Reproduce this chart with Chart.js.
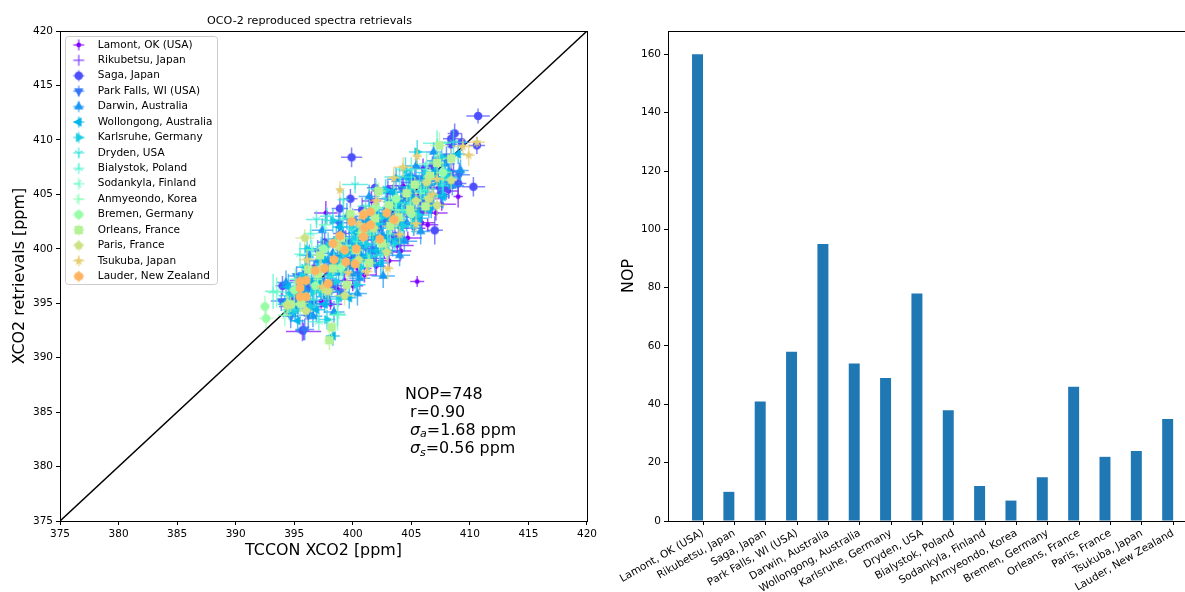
<!DOCTYPE html>
<html>
<head>
<meta charset="utf-8">
<script src="https://cdn.jsdelivr.net/npm/chart.js@4"></script>
<style>
html,body{margin:0;padding:0;background:#fff;overflow:hidden;width:1185px;height:592px;}
canvas{position:absolute;top:0;}
#chartScatter{left:0;}
#chartNop{left:600px;}
</style>
</head>
<body>
<canvas id="chartScatter" width="600" height="592"></canvas>
<canvas id="chartNop" width="590" height="592"></canvas>
<script>
const sites = ["Lamont, OK (USA)","Rikubetsu, Japan","Saga, Japan","Park Falls, WI (USA)","Darwin, Australia","Wollongong, Australia","Karlsruhe, Germany","Dryden, USA","Bialystok, Poland","Sodankyla, Finland","Anmyeondo, Korea","Bremen, Germany","Orleans, France","Paris, France","Tsukuba, Japan","Lauder, New Zealand"];
const nopCounts = [160,10,41,58,95,54,49,78,38,12,7,15,46,22,24,35];
const siteColors = ["#8000ff","#6628fe","#4d4ffc","#3374f8","#1a96f3","#00b4ec","#1acee3","#33e3d9","#4df3ce","#66fcc2","#80ffb4","#99fca6","#b3f396","#cce385","#e6ce74","#ffb462"];
const siteMarkers = ["dot","pixel","circle","down","up","left","right","tri1","tri2","tri3","tri4","octagon","square","pentagon","star","hexagon"];
const axisTicks = [375,380,385,390,395,400,405,410,415,420];
const nopTicks = [0,20,40,60,80,100,120,140,160];
const oneToOne = [375,420];

// each row: tccon, retrieval, tccon error, retrieval error
const lamont = [[395.8,392.4,1.5,.8],[396.4,394.7,1.2,.6],[397.3,395.2,.9,.7],[398.1,394.9,1.0,.5],[398.7,396.3,.8,.8],[399.3,397.1,1.1,.6],[400.0,396.6,.9,.5],[400.4,398.2,1.2,.8],[401.0,397.6,1.0,.7],[401.6,399.1,1.3,.6],[402.0,398.4,.8,.9],[402.7,399.7,1.1,.6],[403.1,398.9,1.0,.7],[403.8,400.3,1.4,.7],[404.1,399.8,.9,.8],[404.7,401.0,1.2,.6],[405.5,397.0,.6,.5],[405.2,401.9,1.0,.7],[405.9,402.4,1.1,.8],[406.4,402.2,.9,.6],[406.0,407.4,.7,.9],[407.1,403.3,1.0,.7],[407.6,404.1,1.2,.6],[408.4,407.1,.6,.8],[409.0,404.8,.4,1.0],[408.2,405.3,.8,.7],[397.7,403.3,1.0,1.1],[401.6,404.4,.8,.9],[399.1,399.2,1.2,.7],[400.6,400.8,1.0,.8],[402.3,402.1,1.3,.8],[403.5,403.2,1.1,.7],[404.6,403.7,1.2,.6],[405.7,405.0,1.0,.8],[406.6,406.2,1.3,.7],[398.0,398.3,.9,.6],[396.9,396.9,1.1,.7],[394.8,395.4,.8,.9],[395.6,397.1,1.0,.7],[400.9,402.4,.9,.7],[402.9,404.6,1.2,.8],[404.3,405.8,1.4,.7],[407.3,405.6,1.2,.7],[401.7,400.0,1.1,.9],[403.0,401.2,1.2,.6]];
const rikubetsu = [[396.0,395.1,.6,1.6],[397.6,397.9,.8,1.4],[399.4,400.5,.7,1.2],[400.8,402.7,.9,1.1],[402.5,401.1,.7,1.3],[404.0,403.0,.8,1.5],[405.6,403.6,.7,1.2],[404.9,406.1,.8,1.3],[406.8,404.6,.6,1.4],[408.6,406.7,.7,1.2]];
const saga = [[410.7,412.2,1.0,.7],[399.9,408.4,.9,.9],[410.3,405.7,1.0,.9],[409.0,406.0,.7,1.1],[408.0,405.6,.8,1.1],[407.0,401.7,.7,1.3],[408.7,410.6,.6,.9],[408.4,410.1,.7,.8],[408.4,409.6,.5,.9],[409.3,409.8,.7,.8],[410.6,409.5,.7,.8],[398.9,403.7,.7,1.0],[395.7,392.5,.6,1.0],[394.5,394.7,.8,.9],[395.4,395.6,.6,.9],[396.7,398.2,.8,.8],[397.6,400.6,.6,.9],[398.3,396.6,.8,.7],[399.0,401.4,.7,.9],[400.1,399.2,.8,.7],[400.8,403.6,.7,1.1],[401.4,398.9,.6,.9],[402.2,403.0,.8,.7],[403.0,405.4,.8,.9],[403.6,401.2,.7,.9],[404.5,404.6,.8,.7],[405.3,406.4,.7,1.1],[405.8,403.4,.6,.8],[406.8,407.6,.6,.9],[407.5,405.0,.7,.7],[396.2,396.4,.7,1.0],[399.8,404.6,.6,.9],[401.9,405.6,.7,.9],[406.0,404.3,.7,1.0],[394.0,396.6,.6,.9]];
const parkFalls = [[395.9,392.6,.8,1.0],[394.7,393.8,.7,1.1],[393.9,395.2,.9,.9],[396.6,395.0,.7,1.3],[397.5,396.4,.8,1.0],[398.2,398.8,.9,1.1],[399.0,396.0,.7,.9],[399.7,400.6,.8,1.1],[400.5,397.7,.7,1.0],[401.3,402.0,.9,.9],[402.0,399.6,.7,1.1],[402.9,403.6,.8,1.0],[403.4,400.6,.7,1.3],[404.2,405.5,.9,1.1],[405.1,402.9,.8,1.0],[405.9,406.5,.7,1.0],[406.6,404.2,.8,.9],[407.2,408.1,.9,.8],[408.2,406.1,.9,1.0],[409.1,406.8,.9,1.1],[408.0,408.5,.8,.9],[397.0,399.8,.7,1.0],[398.8,402.4,.8,.9],[401.1,400.2,.9,.9],[403.0,402.2,.8,1.1],[404.7,403.9,.7,1.0],[406.2,405.8,.8,.9],[400.0,402.7,.8,1.0],[395.2,397.5,.7,.9],[396.2,393.9,.8,1.2],[394.9,395.9,.6,.8],[396.0,397.8,.7,.9],[397.8,398.1,.6,.8],[398.7,400.3,.7,.9],[399.5,398.7,.6,.8],[400.4,401.4,.7,.9],[401.7,401.1,.7,.8],[402.6,402.5,.6,.9],[403.9,403.3,.7,.8],[404.9,404.9,.6,.9],[405.7,404.6,.7,.8],[407.0,406.6,.6,.9]];
const darwin = [[402.6,397.5,1.0,1.1],[395.1,394.5,.9,1.0],[395.9,396.2,1.0,1.1],[396.6,393.8,.8,1.0],[397.2,397.3,1.1,1.2],[397.8,395.6,.9,1.0],[398.3,399.6,1.0,1.1],[398.8,397.8,.8,1.2],[399.2,401.1,.9,1.0],[399.7,398.4,1.0,.9],[400.2,400.6,1.1,1.0],[400.6,397.3,.9,1.1],[401.1,402.6,1.0,1.2],[401.6,399.9,.8,1.0],[402.1,403.3,.9,1.0],[402.5,401.3,1.0,1.1],[403.0,399.8,1.0,1.3],[403.5,404.0,.8,1.0],[403.9,402.5,.9,1.1],[404.4,400.7,1.1,1.0],[404.8,405.3,.9,1.0],[405.3,403.6,1.0,1.0],[405.8,401.6,.8,1.2],[406.2,406.6,1.0,1.0],[406.7,403.9,.9,1.1],[407.3,406.2,.9,1.0],[407.9,407.8,.8,.9],[408.5,405.8,1.0,.9],[409.2,407.2,.7,1.0],[394.3,396.9,.8,1.1],[396.3,399.4,.9,1.0],[397.4,401.7,.9,1.1],[399.5,403.0,1.0,1.2],[401.4,404.8,.9,1.1],[403.7,406.4,.8,1.0],[405.4,407.6,.8,1.1],[398.4,394.2,.9,1.0],[400.4,395.9,.8,1.1],[404.0,399.4,.9,1.0],[406.9,408.9,.7,.9],[395.4,395.3,.7,.8],[396.9,396.4,.8,.9],[397.9,399.0,.7,.8],[398.9,399.4,.8,.9],[399.8,400.2,.7,.8],[400.7,399.4,.8,.9],[401.3,401.4,.7,.8],[402.2,401.9,.8,.9],[403.3,402.8,.7,.8],[404.1,404.5,.8,.9],[405.1,404.7,.7,.8],[406.0,405.2,.8,.9],[407.1,407.3,.7,.8],[394.8,394.1,.6,.8],[396.1,394.9,.6,.7],[397.0,398.9,.7,.8],[398.0,397.0,.6,.8],[399.0,400.4,.6,.7],[400.0,397.7,.7,.8],[400.9,401.8,.6,.7],[401.9,398.6,.6,.8],[402.9,400.9,.7,.8],[403.4,405.2,.6,.7],[404.6,402.4,.6,.8],[405.0,406.7,.7,.7],[406.4,405.9,.6,.8],[407.6,405.0,.6,.8],[408.2,407.1,.7,.7]];
const wollongong = [[398.3,392.0,.6,.9],[394.5,396.5,.7,1.2],[395.3,393.4,.6,1.1],[396.0,398.3,.8,1.0],[396.9,394.4,.7,1.1],[397.5,399.0,.7,1.0],[398.0,396.1,.8,1.3],[398.6,400.9,.7,1.1],[399.2,398.1,.8,1.0],[399.7,395.5,.6,1.0],[400.3,401.5,.7,1.2],[400.9,399.2,.8,1.1],[401.4,403.5,.7,1.0],[401.9,400.9,.6,1.1],[402.4,398.7,.7,1.2],[403.0,402.9,.8,1.0],[403.5,405.2,.7,1.1],[404.1,402.0,.7,1.0],[404.6,406.6,.6,1.1],[405.2,404.5,.8,1.1],[405.7,402.8,.7,1.2],[406.3,405.5,.8,1.0],[407.0,407.0,.7,1.0],[407.7,404.8,.6,1.1],[408.3,406.5,.7,1.0],[409.0,408.7,.6,.9],[395.7,396.7,.6,.8],[397.1,397.0,.7,.9],[398.5,398.6,.6,.8],[399.4,399.7,.7,.9],[400.6,400.3,.6,.8],[401.6,402.1,.7,.9],[402.7,400.8,.6,.8],[403.8,403.9,.7,.9],[405.0,403.6,.6,.8],[394.2,394.9,.6,.8],[396.5,397.0,.6,.7],[397.6,394.9,.7,.8],[398.9,402.0,.6,.7],[400.0,398.9,.6,.8],[401.2,403.0,.7,.7],[402.0,399.8,.6,.8],[403.2,404.3,.6,.7],[404.0,400.9,.7,.8],[404.9,405.7,.6,.7],[406.5,403.6,.6,.8],[407.4,406.0,.7,.7]];
const karlsruhe = [[400.3,396.7,.8,1.0],[397.8,393.5,.7,.9],[405.5,408.9,.7,1.1],[394.6,395.7,.9,.9],[395.7,397.5,.8,1.1],[396.4,394.7,.7,1.0],[397.1,398.3,.9,1.0],[397.9,400.3,.8,1.2],[398.6,397.0,.7,.9],[399.3,399.5,.9,1.0],[399.9,402.0,.8,1.1],[400.7,398.3,.7,1.0],[401.2,400.4,.9,1.1],[401.8,403.1,.8,1.2],[402.6,399.9,.8,1.0],[403.2,401.9,.7,1.1],[403.8,404.2,.9,1.0],[404.3,402.1,.8,1.0],[405.0,405.6,.7,1.1],[405.6,403.1,.9,1.0],[406.2,407.0,.8,1.0],[406.9,404.9,.8,1.1],[407.6,408.4,.7,1.0],[408.1,406.6,.8,.9],[396.1,400.0,.7,1.0],[398.3,402.6,.8,1.1],[402.8,405.4,.7,1.0],[404.5,407.2,.6,1.2],[396.6,396.0,.6,.8],[398.1,397.6,.7,.9],[399.0,398.9,.6,.8],[400.1,400.9,.7,.9],[401.0,401.8,.6,.8],[402.1,402.3,.7,.9],[403.1,403.6,.6,.8],[404.4,403.5,.7,.9],[405.9,405.3,.6,.8],[395.0,394.3,.6,.7],[397.3,396.0,.6,.8],[398.8,395.4,.7,.7],[399.8,400.0,.6,.8],[401.5,399.3,.6,.7],[402.5,402.9,.7,.8],[403.6,400.5,.6,.7],[405.2,402.4,.6,.8],[406.6,406.4,.7,.7],[407.9,407.1,.6,.8]];
const dryden = [[396.9,402.7,.9,.8],[394.6,394.4,.6,.9],[395.3,396.0,.5,.7],[395.9,398.4,.5,.8],[396.7,395.3,.6,.7],[397.3,400.2,.5,.9],[398.0,397.4,.4,.6],[398.7,394.0,.7,1.1],[399.2,399.9,.5,.7],[399.9,401.8,.4,.8],[400.5,398.8,.6,.6],[401.1,403.9,.7,.7],[401.7,401.3,.4,.8],[402.3,399.4,.5,.8],[402.8,404.6,.7,.7],[403.4,402.7,.4,.6],[404.0,406.6,1.3,.9],[404.7,404.2,.4,.8],[405.2,401.9,.4,.7],[405.7,406.2,.5,.8],[406.3,404.6,.4,.7],[407.0,408.0,.5,.7],[407.7,405.8,.5,.8],[408.6,409.8,1.2,1.2],[397.8,403.0,.6,.8],[399.2,404.5,.5,.9],[400.2,405.9,1.1,.8]];
const bialystok = [[393.2,396.1,.7,1.6],[397.1,393.3,.9,.8],[394.4,395.0,.5,.9],[395.5,399.5,.5,1.1],[396.4,401.4,.6,.9],[397.4,396.2,.4,.8],[398.4,399.1,.4,.7],[399.2,402.8,.5,.8],[400.4,400.7,.4,.8],[401.3,398.8,.4,.7],[402.2,403.8,.5,.8],[403.2,401.4,.4,.7],[404.2,403.5,.4,.8],[405.0,407.3,1.4,1.1],[406.1,405.4,.4,.8],[407.2,409.7,1.2,1.2],[407.6,406.4,.5,.7]];
const sodankyla = [[393.5,396.0,.8,1.4],[398.7,393.9,.7,1.4],[395.1,397.2,.5,1.0],[396.5,399.9,.5,.9],[399.0,397.9,.4,.7],[400.7,402.0,.4,.8],[403.0,400.3,.5,1.5],[402.0,405.5,.7,.9],[404.9,404.0,.4,.7],[406.3,407.8,.7,1.1],[397.6,402.2,.5,.7]];
const anmyeondo = [[394.2,393.9,.6,1.0],[395.5,394.8,.5,1.0],[397.0,397.2,.4,.8],[399.5,400.3,.4,.8],[401.5,401.6,.4,.7],[403.7,403.6,.4,.8],[405.8,405.1,.4,.8]];
const bremen = [[392.5,394.7,.4,1.0],[392.6,393.6,.6,.9],[395.0,396.2,.5,.9],[396.8,396.6,.5,.7],[397.5,400.0,.6,.8],[399.0,398.3,.5,.8],[400.8,401.5,.6,.9],[402.3,400.7,.5,.8],[403.7,404.6,.6,.8],[405.0,403.2,.5,.8],[407.7,407.0,.6,.9],[406.5,406.6,.5,.7],[394.5,394.9,.6,.8],[398.5,400.5,.5,.7],[401.9,403.8,.6,.7]];
const orleans = [[407.4,409.5,.8,1.2],[398.2,392.8,.4,.8],[398.0,391.6,.4,.9],[394.7,394.9,.6,.7],[395.6,395.0,.6,.7],[396.2,398.1,.6,.7],[397.2,399.4,.7,.8],[397.7,396.3,.7,.8],[398.3,398.2,.6,.6],[399.0,401.0,.5,.7],[399.5,396.7,.5,.8],[400.3,399.9,.6,.7],[400.9,401.2,.6,.7],[401.4,398.7,.6,.8],[401.9,402.8,.5,.8],[402.5,400.5,.6,.7],[403.1,404.0,.5,.9],[403.2,402.1,.7,.8],[403.9,402.9,.6,.7],[404.6,405.1,.5,.7],[404.9,403.6,.6,.6],[405.3,405.9,.5,.7],[406.2,403.9,.6,.7],[406.6,406.7,.5,.8],[407.2,407.9,.6,.8],[408.4,408.3,.7,.9],[399.8,403.2,.6,.7],[402.2,405.3,.6,.8],[397.0,397.7,.5,.7]];
const paris = [[399.3,395.7,.9,.9],[395.9,401.0,.8,.8],[407.2,404.0,.8,1.0],[406.5,404.6,.5,1.0],[408.4,406.3,.5,.8],[394.4,394.8,.6,.9],[396.0,394.3,.6,.7],[397.3,398.2,.6,.8],[398.8,400.2,.5,.7],[400.5,399.0,.6,.9],[401.8,401.9,.5,.7],[402.9,399.7,.5,.8],[403.7,402.6,.7,.8],[405.4,404.4,.5,.8],[406.3,406.1,.5,.7],[401.0,403.3,.6,.7],[397.9,396.1,.5,.7]];
const tsukuba = [[398.9,405.4,.3,.8],[409.4,409.4,.9,.7],[410.6,409.8,.7,.5],[409.9,408.6,.5,1.0],[405.5,408.5,.4,.7],[404.3,407.5,.8,.9],[403.5,406.5,.5,1.0],[396.1,399.0,.7,.9],[403.0,398.2,.5,1.0],[401.2,397.9,.5,.7],[399.6,397.8,.4,.6],[407.2,406.4,.6,.6],[405.4,402.3,.5,.8],[397.4,396.5,.5,.6],[402.0,404.4,.6,.6],[406.8,405.0,.5,.8],[400.5,402.3,.6,.7],[404.0,401.3,.5,.8]];
const lauder = [[395.5,397.0,.3,.4],[396.0,397.1,.4,.4],[395.5,396.4,.3,.4],[395.5,395.6,.4,.3],[396.0,395.6,.3,.4],[397.6,398.2,.3,.4],[397.9,396.8,.4,.4],[398.4,399.0,.4,.3],[399.4,398.8,.3,.3],[399.3,399.9,.3,.4],[398.9,401.2,.3,.4],[398.3,400.5,.4,.4],[401.0,401.9,.3,.4],[400.9,401.1,.4,.3],[400.3,400.0,.3,.3],[400.9,403.1,.3,.4],[401.5,403.4,.4,.3],[401.5,402.2,.4,.4],[402.3,400.9,.3,.4],[400.2,398.6,.3,.4],[396.8,398.0,.3,.3],[402.9,403.3,.3,.4],[399.9,402.5,.3,.4],[403.5,402.7,.4,.3]];

const siteRows = [lamont,rikubetsu,saga,parkFalls,darwin,wollongong,karlsruhe,dryden,bialystok,sodankyla,anmyeondo,bremen,orleans,paris,tsukuba,lauder];

const annotationLines = ["NOP=748","r=0.90"];
const sigmaLines = [["a","=1.68 ppm"],["s","=0.56 ppm"]];

Chart.defaults.font.family = "'DejaVu Sans'";
Chart.defaults.color = "#000";
Chart.defaults.animation = false;

function polygon(c, r, sides, start, inner){
    c.beginPath();
    const n = inner ? sides * 2 : sides;
    for(let i = 0; i < n; i++){
        const rad = inner && i % 2 ? inner : r;
        const a = start + i * Math.PI * 2 / n;
        c.lineTo(rad * Math.cos(a), rad * Math.sin(a));
    }
    c.closePath();
    c.fill();
}

function tri(c, r, start){
    c.beginPath();
    for(let i = 0; i < 3; i++){
        const a = start + i * Math.PI * 2 / 3;
        c.moveTo(0, 0);
        c.lineTo(r * Math.cos(a), r * Math.sin(a));
    }
    c.lineWidth = 1;
    c.stroke();
}

function drawMarker(c, kind){
    const up = -Math.PI / 2;
    if(kind === "dot"){ polygon(c, 2.4, 16, 0); }
    else if(kind === "pixel"){ c.fillRect(-.5, -.5, 1, 1); }
    else if(kind === "circle"){ polygon(c, 4.2, 20, 0); }
    else if(kind === "down"){ polygon(c, 5.5, 3, -up); }
    else if(kind === "up"){ polygon(c, 5.5, 3, up); }
    else if(kind === "left"){ polygon(c, 5.5, 3, Math.PI); }
    else if(kind === "right"){ polygon(c, 5.5, 3, 0); }
    else if(kind === "tri1"){ tri(c, 4.5, -up); }
    else if(kind === "tri2"){ tri(c, 4.5, up); }
    else if(kind === "tri3"){ tri(c, 4.5, Math.PI); }
    else if(kind === "tri4"){ tri(c, 4.5, 0); }
    else if(kind === "octagon"){ polygon(c, 4.5, 8, Math.PI / 8); }
    else if(kind === "square"){ polygon(c, 5.9, 4, Math.PI / 4); }
    else if(kind === "pentagon"){ polygon(c, 4.7, 5, up); }
    else if(kind === "star"){ polygon(c, 5.2, 5, up, 2.1); }
    else if(kind === "hexagon"){ polygon(c, 4.9, 6, up); }
}

function markerCanvas(kind, color, withBars){
    const canvas = document.createElement("canvas");
    canvas.width = 16;
    canvas.height = 16;
    const c = canvas.getContext("2d");
    c.translate(8, 8);
    c.fillStyle = color;
    c.strokeStyle = color;
    if(withBars){
        c.globalAlpha = .7;
        c.lineWidth = 1.5;
        c.beginPath();
        c.moveTo(-5.5, 0);
        c.lineTo(5.5, 0);
        c.moveTo(0, -5.5);
        c.lineTo(0, 5.5);
        c.stroke();
        c.globalAlpha = 1;
    }
    drawMarker(c, kind);
    return canvas;
}

const errorBars = {
    id: "errorBars",
    beforeDatasetDraw(chart, args){
        const rows = chart.data.datasets[args.index].rows;
        if(!rows) return;
        const x = chart.scales.x;
        const y = chart.scales.y;
        const c = chart.ctx;
        c.save();
        c.strokeStyle = chart.data.datasets[args.index].backgroundColor;
        c.globalAlpha = .7;
        c.lineWidth = 1.5;
        rows.forEach(row => {
            c.beginPath();
            c.moveTo(x.getPixelForValue(row[0] - row[2]), y.getPixelForValue(row[1]));
            c.lineTo(x.getPixelForValue(row[0] + row[2]), y.getPixelForValue(row[1]));
            c.moveTo(x.getPixelForValue(row[0]), y.getPixelForValue(row[1] - row[3]));
            c.lineTo(x.getPixelForValue(row[0]), y.getPixelForValue(row[1] + row[3]));
            c.stroke();
        });
        c.restore();
    }
};

// legend sits inside the axes, title is off centre in the original
const placeBoxes = {
    id: "placeBoxes",
    afterLayout(chart){
        chart.legend.top = 34.7;
        chart.titleBlock.left = 60;
        chart.titleBlock.right = 559;
    },
    beforeDraw(chart){
        const c = chart.ctx;
        c.save();
        c.strokeStyle = "#cccccc";
        c.lineWidth = 1;
        c.beginPath();
        c.roundRect(65.5, 36.5, 152, 248, 3);
        c.stroke();
        c.restore();
    }
};

const frame = {
    id: "frame",
    afterDraw(chart){
        const a = chart.chartArea;
        const c = chart.ctx;
        c.save();
        c.strokeStyle = "#000";
        c.lineWidth = 1;
        c.strokeRect(Math.round(a.left) + .5, Math.round(a.top) + .5, Math.round(a.right - a.left), Math.round(a.bottom - a.top));
        c.restore();
    }
};

const statsText = {
    id: "statsText",
    afterDraw(chart){
        const c = chart.ctx;
        c.save();
        c.fillStyle = "#000";
        c.textBaseline = "alphabetic";
        c.font = "15.9px 'DejaVu Sans'";
        c.fillText(annotationLines[0], 405, 398.5);
        c.fillText(annotationLines[1], 410, 416.5);
        sigmaLines.forEach((line, i) => {
            const base = 434.8 + i * 18.5;
            let x = 410;
            c.font = "italic 15.9px 'DejaVu Sans'";
            c.fillText("σ", x, base);
            x += c.measureText("σ").width;
            c.font = "italic 11px 'DejaVu Sans'";
            c.fillText(line[0], x, base + 2.5);
            x += c.measureText(line[0]).width;
            c.font = "15.9px 'DejaVu Sans'";
            c.fillText(line[1], x, base);
        });
        c.restore();
    }
};

const tickFont = {size: 10.5};

const scatterSets = sites.map((site, i) => ({
    label: site,
    data: siteRows[i].map(row => ({x: row[0], y: row[1]})),
    rows: siteRows[i],
    backgroundColor: siteColors[i],
    borderColor: siteColors[i],
    pointStyle: markerCanvas(siteMarkers[i], siteColors[i], false),
    showLine: false,
    order: sites.length - i
}));

new Chart(document.getElementById("chartScatter"), {
    type: "scatter",
    data: {
        datasets: [{
            label: "one to one",
            type: "line",
            data: oneToOne.map(v => ({x: v, y: v})),
            borderColor: "#000",
            borderWidth: 1.5,
            pointRadius: 0,
            order: 100
        }].concat(scatterSets)
    },
    options: {
        responsive: false,
        layout: {padding: {left: 10, right: 12, top: 0, bottom: 32}},
        plugins: {
            title: {
                display: true,
                text: "OCO-2 reproduced spectra retrievals",
                fullSize: false,
                font: {size: 11.15, weight: "normal"},
                padding: {top: 14.4, bottom: 3.3}
            },
            tooltip: {enabled: false},
            legend: {
                position: "chartArea",
                align: "start",
                labels: {
                    usePointStyle: true,
                    pointStyleWidth: 27.6,
                    font: {size: 10.5},
                    padding: 4.93,
                    boxHeight: 12,
                    generateLabels(chart){
                        return sites.map((site, i) => ({
                            text: site,
                            datasetIndex: i + 1,
                            fontColor: "#000",
                            lineWidth: 0,
                            hidden: false,
                            pointStyle: markerCanvas(siteMarkers[i], siteColors[i], true)
                        }));
                    }
                }
            }
        },
        scales: {
            x: {
                type: "linear",
                min: 375,
                max: 420,
                afterBuildTicks(axis){ axis.ticks = axisTicks.map(value => ({value})); },
                afterFit(axis){ axis.height = 39; },
                title: {display: true, text: "TCCON XCO2 [ppm]", font: {size: 15.9}, padding: {top: 0, bottom: 0}},
                ticks: {font: tickFont, padding: 3, maxRotation: 0},
                border: {color: "#000"},
                grid: {drawOnChartArea: false, color: "#000", tickLength: 4}
            },
            y: {
                type: "linear",
                min: 375,
                max: 420,
                afterBuildTicks(axis){ axis.ticks = axisTicks.map(value => ({value})); },
                afterFit(axis){ axis.width = 50; },
                title: {display: true, text: "XCO2 retrievals [ppm]", font: {size: 15.9}, padding: {top: 0, bottom: 0}},
                ticks: {font: tickFont, padding: 3},
                border: {color: "#000"},
                grid: {drawOnChartArea: false, color: "#000", tickLength: 4}
            }
        }
    },
    plugins: [errorBars, placeBoxes, frame, statsText]
});

new Chart(document.getElementById("chartNop"), {
    type: "bar",
    data: {
        datasets: [{
            label: "NOP",
            data: nopCounts.map((v, i) => ({x: i - .175, y: v})),
            backgroundColor: "#1f77b4",
            barPercentage: .35,
            categoryPercentage: 1
        }]
    },
    options: {
        responsive: false,
        layout: {padding: {left: 19, right: 4, top: 31, bottom: 0}},
        plugins: {legend: {display: false}, tooltip: {enabled: false}},
        scales: {
            x: {
                type: "linear",
                offset: false,
                min: -1.117,
                max: 15.41,
                afterBuildTicks(axis){ axis.ticks = sites.map((s, i) => ({value: i})); },
                afterFit(axis){ axis.height = 71; },
                ticks: {
                    font: tickFont,
                    autoSkip: false,
                    maxRotation: 30,
                    minRotation: 30,
                    padding: 2,
                    callback: v => sites[v]
                },
                border: {color: "#000"},
                grid: {offset: false, drawOnChartArea: false, color: "#000", tickLength: 4}
            },
            y: {
                min: 0,
                max: 168,
                afterBuildTicks(axis){ axis.ticks = nopTicks.map(value => ({value})); },
                afterFit(axis){ axis.width = 49; },
                title: {display: true, text: "NOP", font: {size: 15.9}, padding: {top: 0, bottom: 0}},
                ticks: {font: tickFont, padding: 3},
                border: {color: "#000"},
                grid: {drawOnChartArea: false, color: "#000", tickLength: 4}
            }
        }
    },
    plugins: [frame]
});
</script>
</body>
</html>
